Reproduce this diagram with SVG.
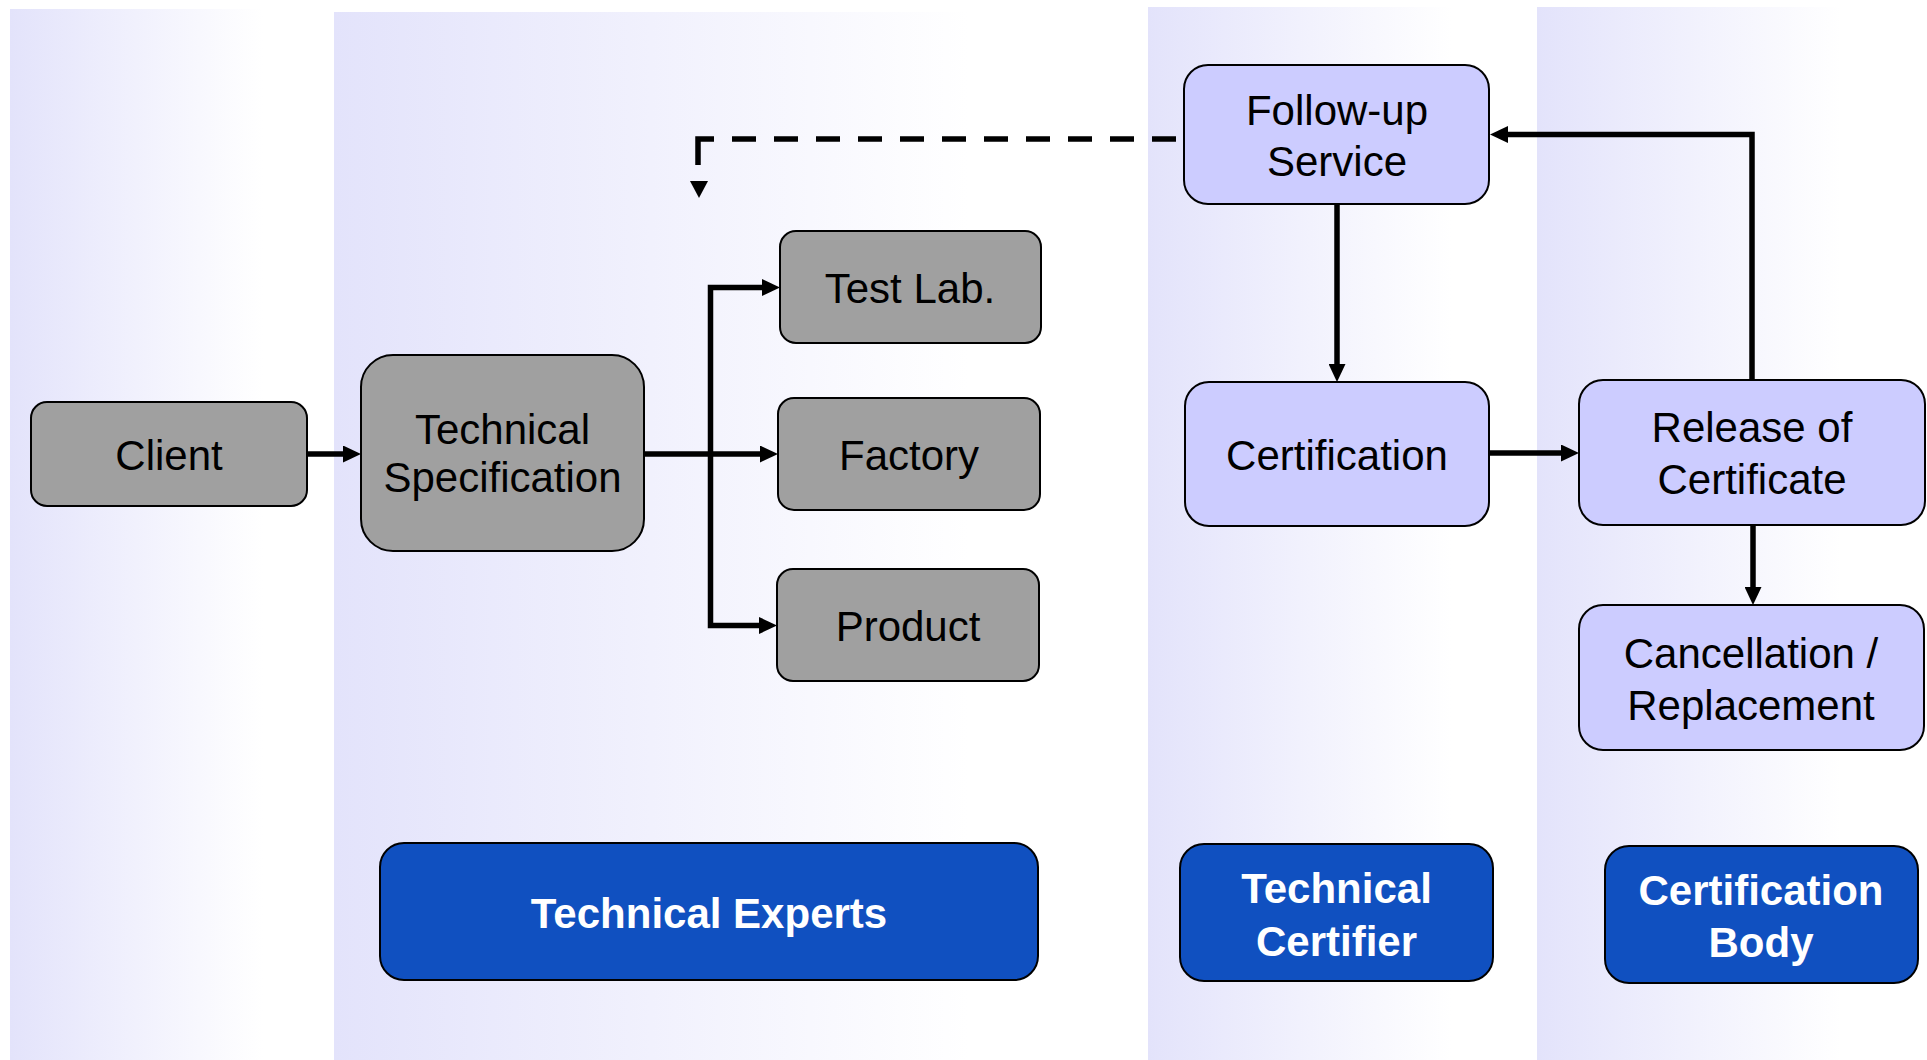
<svg xmlns="http://www.w3.org/2000/svg" width="1927" height="1060" viewBox="0 0 1927 1060">
<defs>
<linearGradient id="lane" x1="0" y1="0" x2="1" y2="0">
<stop offset="0" stop-color="#E3E3FB"/>
<stop offset="0.78" stop-color="#FFFFFF"/>
<stop offset="1" stop-color="#FFFFFF"/>
</linearGradient>
<marker id="arr" markerUnits="userSpaceOnUse" markerWidth="18" markerHeight="17" refX="0" refY="8.5" orient="auto" viewBox="0 0 18 17">
<path d="M0,0 L18,8.5 L0,17 Z" fill="#000"/>
</marker>
<style>
.lane{fill:url(#lane);}
.gray{fill:#A0A0A0;stroke:#000;stroke-width:2;}
.lav{fill:#CCCCFF;stroke:#000;stroke-width:2;}
.blue{fill:#1050C0;stroke:#000;stroke-width:2;}
.t{font-family:"Liberation Sans",Arial,sans-serif;font-size:42px;fill:#000;text-anchor:middle;}
.tb{font-family:"Liberation Sans",Arial,sans-serif;font-size:42px;font-weight:bold;fill:#FFFFFF;text-anchor:middle;}
.c{fill:none;stroke:#000;stroke-width:5.5;marker-end:url(#arr);}
.d{fill:none;stroke:#000;stroke-width:5.5;stroke-dasharray:24 18;}
.s{fill:none;stroke:#000;stroke-width:5.5;}
</style>
</defs>
<rect width="1927" height="1060" fill="#FFFFFF"/>
<g id="lanes">
<rect class="lane" x="10" y="9" width="324" height="1051"/>
<rect class="lane" x="334" y="12" width="814" height="1048"/>
<rect class="lane" x="1148" y="7" width="389" height="1053"/>
<rect class="lane" x="1537" y="7" width="390" height="1053"/>
</g>
<g id="connectors">
<path class="c" d="M307,454 H343"/>
<path class="c" d="M644,454 H760"/>
<path class="c" d="M710.5,454 V287.5 H762"/>
<path class="c" d="M710.5,454 V625.5 H759"/>
<path class="c" d="M1337,204 V364"/>
<path class="c" d="M1489,453 H1561"/>
<path class="c" d="M1752,380 V134.5 H1508"/>
<path class="c" d="M1753,525 V587"/>
<path class="d" d="M1176,139 H732"/>
<path class="s" d="M714,139 H698 V165"/>
<polygon points="690,181 708,181 699,198" fill="#000"/>
</g>
<g id="client">
<rect class="gray" x="31" y="402" width="276" height="104" rx="16"/>
<text class="t" x="169" y="470">Client</text>
</g>
<g id="techspec">
<rect class="gray" x="361" y="355" width="283" height="196" rx="32"/>
<text class="t" x="502.5" y="444">Technical</text>
<text class="t" x="502.5" y="492">Specification</text>
</g>
<g id="testlab">
<rect class="gray" x="780" y="231" width="261" height="112" rx="16"/>
<text class="t" x="910" y="303">Test Lab.</text>
</g>
<g id="factory">
<rect class="gray" x="778" y="398" width="262" height="112" rx="16"/>
<text class="t" x="909" y="470">Factory</text>
</g>
<g id="product">
<rect class="gray" x="777" y="569" width="262" height="112" rx="16"/>
<text class="t" x="908" y="641">Product</text>
</g>
<g id="followup">
<rect class="lav" x="1184" y="65" width="305" height="139" rx="24"/>
<text class="t" x="1337" y="125">Follow-up</text>
<text class="t" x="1337" y="176">Service</text>
</g>
<g id="certification">
<rect class="lav" x="1185" y="382" width="304" height="144" rx="24"/>
<text class="t" x="1337" y="470">Certification</text>
</g>
<g id="release">
<rect class="lav" x="1579" y="380" width="346" height="145" rx="24"/>
<text class="t" x="1752" y="442">Release of</text>
<text class="t" x="1752" y="494">Certificate</text>
</g>
<g id="cancellation">
<rect class="lav" x="1579" y="605" width="345" height="145" rx="24"/>
<text class="t" x="1751" y="668">Cancellation /</text>
<text class="t" x="1751" y="720">Replacement</text>
</g>
<g id="techexperts">
<rect class="blue" x="380" y="843" width="658" height="137" rx="24"/>
<text class="tb" x="709" y="928">Technical Experts</text>
</g>
<g id="techcertifier">
<rect class="blue" x="1180" y="844" width="313" height="137" rx="24"/>
<text class="tb" x="1336.5" y="903">Technical</text>
<text class="tb" x="1336.5" y="956">Certifier</text>
</g>
<g id="certbody">
<rect class="blue" x="1605" y="846" width="313" height="137" rx="24"/>
<text class="tb" x="1761" y="905">Certification</text>
<text class="tb" x="1761" y="957">Body</text>
</g>
</svg>
